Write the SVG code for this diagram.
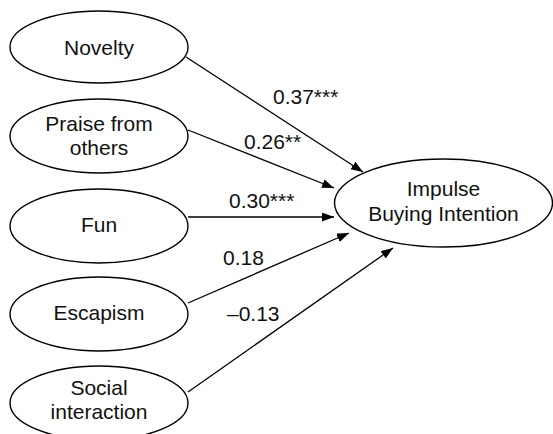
<svg xmlns="http://www.w3.org/2000/svg" width="553" height="434" viewBox="0 0 553 434">
  <style>
    .node ellipse { fill: #ffffff; stroke: #000000; stroke-width: 1.4; }
    .node text, .label { font-family: "Liberation Sans", Arial, Helvetica, sans-serif; font-size: 21px; fill: #111111; }
    .node text { text-anchor: middle; }
    .edge { stroke: #000000; stroke-width: 1.3; fill: none; marker-end: url(#arrow); }
  </style>
  <defs>
    <marker id="arrow" markerUnits="userSpaceOnUse" markerWidth="13" markerHeight="10" refX="12" refY="4.5" orient="auto">
      <path d="M0,0 L12,4.5 L0,9 z" fill="#000000"/>
    </marker>
  </defs>
  <rect width="553" height="434" fill="#ffffff"/>

  <!-- path connectors with coefficients -->
  <g id="connectors">
    <line class="edge" x1="186" y1="57" x2="363" y2="172"/>
    <line class="edge" x1="188" y1="130" x2="334" y2="188"/>
    <line class="edge" x1="188" y1="217" x2="334" y2="217"/>
    <line class="edge" x1="188" y1="303" x2="349" y2="233"/>
    <line class="edge" x1="188" y1="392" x2="393" y2="248"/>
    <text class="label" x="273" y="104">0.37***</text>
    <text class="label" x="244" y="149">0.26**</text>
    <text class="label" x="229" y="208">0.30***</text>
    <text class="label" x="223" y="265">0.18</text>
    <text class="label" x="227" y="321">–0.13</text>
  </g>

  <g id="novelty" class="node">
    <ellipse cx="99" cy="47" rx="89" ry="36"/>
    <text x="99" y="55">Novelty</text>
  </g>
  <g id="praise" class="node">
    <ellipse cx="99" cy="136" rx="89" ry="37"/>
    <text x="99" y="131">Praise from</text>
    <text x="99" y="155">others</text>
  </g>
  <g id="fun" class="node">
    <ellipse cx="99" cy="226" rx="89" ry="37"/>
    <text x="99" y="232">Fun</text>
  </g>
  <g id="escapism" class="node">
    <ellipse cx="99" cy="314" rx="89" ry="37"/>
    <text x="99" y="320">Escapism</text>
  </g>
  <g id="social" class="node">
    <ellipse cx="99" cy="403" rx="89" ry="37"/>
    <text x="99" y="395">Social</text>
    <text x="99" y="419">interaction</text>
  </g>
  <g id="impulse" class="node">
    <ellipse cx="443.5" cy="203" rx="109" ry="44"/>
    <text x="443.5" y="196">Impulse</text>
    <text x="443.5" y="221">Buying Intention</text>
  </g>
</svg>
